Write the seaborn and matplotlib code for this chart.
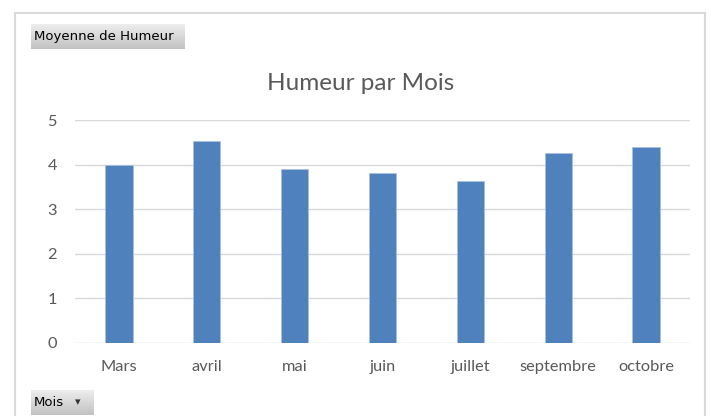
import numpy as np
import pandas as pd
import matplotlib
matplotlib.use("Agg")
import matplotlib.pyplot as plt
import seaborn as sns
from matplotlib.patches import Rectangle

# données
mois = ["Mars", "avril", "mai", "juin", "juillet", "septembre", "octobre"]
humeur = [4.0, 4.52, 3.90, 3.82, 3.64, 4.25, 4.40]
yticks = [0, 1, 2, 3, 4, 5]

df = pd.DataFrame({"Mois": mois, "Humeur": humeur})

sns.set_theme(style="white")
plt.rcParams["font.family"] = ["Lato", "DejaVu Sans"]

W, H = 711, 416
fig = plt.figure(figsize=(W / 100, H / 100), dpi=100)
fig.patch.set_facecolor("white")

# cadre du graphique
fig.patches.append(Rectangle((15 / W, -0.05), 690 / W, (H - 13) / H + 0.05,
                             transform=fig.transFigure, fill=False,
                             edgecolor="#d9d9d9", linewidth=1.5))

ax = fig.add_axes([75 / W, 73 / H, 615 / W, 223 / H])
sns.barplot(data=df, x="Mois", y="Humeur", color="#4f81bd", width=0.31,
            saturation=1, edgecolor="#a9c1e0", linewidth=0.6, ax=ax, zorder=3)
ax.set_xlim(-0.5, len(mois) - 0.5)
ax.set_ylim(0, 5)
ax.set_yticks(yticks)
ax.yaxis.grid(True, color="#d9d9d9", linewidth=1)
ax.set_axisbelow(True)
for s in ax.spines.values():
    s.set_visible(False)
ax.tick_params(axis="both", length=0, colors="#595959", labelsize=11.8)
ax.tick_params(axis="y", pad=13)
ax.tick_params(axis="x", pad=12)
ax.set_xlabel("")
ax.set_ylabel("")

# titre centré sur le cadre
fig.text(361 / W, 1 - 83 / H, "Humeur par Mois", ha="center", va="center",
         fontsize=17.5, color="#595959")


def bouton(x0, y0, x1, y1, texte, fleche=False):
    bax = fig.add_axes([x0 / W, 1 - y1 / H, (x1 - x0) / W, (y1 - y0) / H])
    grad = np.linspace(0.93, 0.76, 50).reshape(-1, 1)
    bax.imshow(grad, aspect="auto", cmap="gray", vmin=0, vmax=1,
               extent=[0, 1, 0, 1], origin="upper")
    bax.set_xlim(0, 1)
    bax.set_ylim(0, 1)
    bax.set_xticks([])
    bax.set_yticks([])
    for s in bax.spines.values():
        s.set_visible(False)
    bax.text(3 / (x1 - x0), 0.5, texte, ha="left", va="center",
             fontsize=9.5, color="black", family="DejaVu Sans")
    if fleche:
        bax.text(0.76, 0.5, "▾", ha="center", va="center", fontsize=8,
                 color="#333333", family="DejaVu Sans")


bouton(31, 24, 184, 49, "Moyenne de Humeur")
bouton(31, 390, 93, 415, "Mois", fleche=True)

fig.savefig("out.png", dpi=100)
